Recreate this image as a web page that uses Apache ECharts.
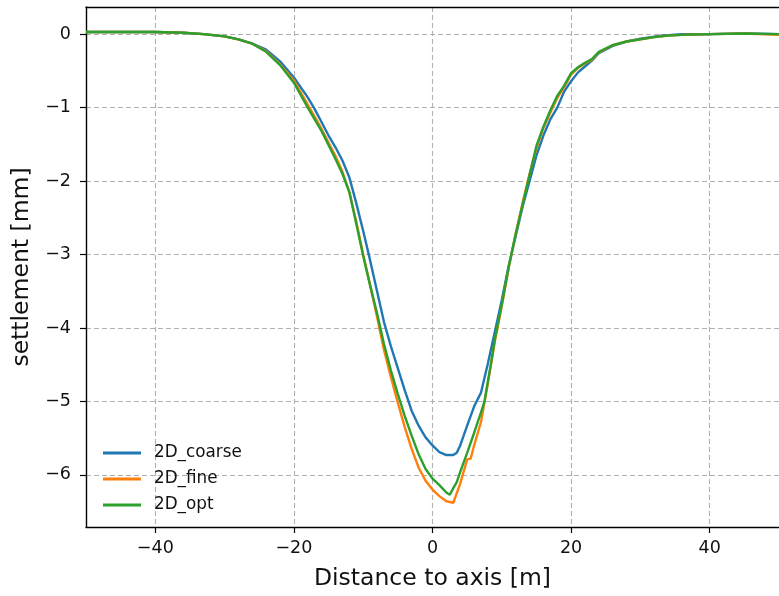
<!DOCTYPE html>
<html>
<head>
<meta charset="utf-8">
<script src="https://cdn.jsdelivr.net/npm/echarts@6/dist/echarts.min.js"></script>
<style>html,body{margin:0;padding:0;background:#fff;}#c{width:779px;height:596px;}</style>
</head>
<body>
<div id="c"></div>
<script>
const seriesNames = ['2D_coarse', '2D_fine', '2D_opt'];
const xTicks = [-40, -20, 0, 20, 40];
const yTicks = [-6, -5, -4, -3, -2, -1, 0];

const coarseX = [-50,-45,-40,-36,-33,-30,-28,-26,-24,-22,-20,-18,-17,-16,-15,-14,-13,-12,-11,-10,-9,-8,-7,-6,-5,-4,-3,-2,-1,0,1,2,3,3.5,4,5,6,7,8,9,10,11,12,13,14,15,16,17,18,19,20,21,22,23,24,26,28,30,33,36,40,45,50];
const coarseY = [0.03,0.03,0.03,0.02,0.0,-0.03,-0.07,-0.13,-0.21,-0.37,-0.59,-0.86,-1.02,-1.20,-1.38,-1.54,-1.72,-1.95,-2.30,-2.68,-3.08,-3.50,-3.92,-4.25,-4.55,-4.85,-5.13,-5.33,-5.49,-5.60,-5.69,-5.73,-5.73,-5.70,-5.60,-5.33,-5.07,-4.88,-4.48,-4.05,-3.62,-3.15,-2.75,-2.35,-2.00,-1.65,-1.38,-1.16,-1.00,-0.78,-0.64,-0.52,-0.44,-0.36,-0.26,-0.16,-0.10,-0.06,-0.02,0.0,0.0,0.01,0.0];

const fineX = [-50,-45,-40,-36,-33,-30,-28,-26,-24,-22,-20,-18,-16,-14,-13,-12,-11,-10,-9,-8,-7,-6,-5,-4,-3,-2,-1,0,1,2,3,4,5,5.5,6,7,8,9,10,11,12,13,14,15,16,17,18,19,20,21,22,23,24,26,28,30,32,34,36,40,45,50];
const fineY = [0.03,0.03,0.03,0.02,0.0,-0.03,-0.07,-0.13,-0.23,-0.41,-0.63,-0.96,-1.29,-1.66,-1.87,-2.15,-2.55,-3.00,-3.42,-3.85,-4.30,-4.67,-5.02,-5.35,-5.65,-5.90,-6.08,-6.20,-6.29,-6.36,-6.38,-6.12,-5.79,-5.78,-5.60,-5.28,-4.75,-4.18,-3.70,-3.18,-2.72,-2.30,-1.90,-1.55,-1.28,-1.07,-0.87,-0.72,-0.55,-0.46,-0.40,-0.35,-0.25,-0.15,-0.10,-0.07,-0.04,-0.02,-0.01,0.0,0.01,-0.01];

const optX = [-50,-45,-40,-36,-33,-30,-28,-26,-24,-22,-20,-18,-16,-14,-13,-12,-11,-10,-9,-8,-7,-6,-5,-4,-3,-2,-1,0,1,2,2.5,3,3.5,4,5,6,7,7.5,8,8.5,9,10,11,12,13,14,15,16,17,18,19,20,21,22,23,24,26,28,30,32,34,36,40,45,50];
const optY = [0.03,0.03,0.03,0.02,0.0,-0.03,-0.07,-0.13,-0.24,-0.42,-0.66,-1.00,-1.32,-1.70,-1.90,-2.15,-2.58,-3.02,-3.42,-3.80,-4.22,-4.58,-4.90,-5.20,-5.47,-5.72,-5.92,-6.05,-6.14,-6.24,-6.27,-6.18,-6.10,-5.96,-5.70,-5.43,-5.15,-5.00,-4.72,-4.45,-4.15,-3.68,-3.17,-2.72,-2.32,-1.92,-1.52,-1.26,-1.04,-0.84,-0.70,-0.53,-0.45,-0.39,-0.34,-0.24,-0.15,-0.10,-0.07,-0.04,-0.02,-0.01,0.0,0.01,0.0];

const colors = ['#1f77b4', '#ff7f0e', '#2ca02c'];
const xs = [coarseX, fineX, optX];
const ys = [coarseY, fineY, optY];
const minus = v => String(v).replace('-', '\u2212');
const FONT = 'DejaVu Sans';
const TXT = '#111';

const chart = echarts.init(document.getElementById('c'), null, {renderer: 'canvas'});
const series = seriesNames.map((n, i) => ({
  name: n, type: 'line', showSymbol: false, symbol: 'none',
  data: xs[i].map((x, k) => [x, ys[i][k]]),
  lineStyle: {color: colors[i], width: 2.4}, itemStyle: {color: colors[i]},
  animation: false, z: 3 + i
}));

const gridLine = {show: true, lineStyle: {color: '#b0b0b0', type: [5, 3], width: 1.1}};

chart.setOption({
  animation: false,
  grid: {left: 86, top: 7, width: 702, height: 523, containLabel: false},
  legend: {
    data: seriesNames.map((n, i) => ({name: n, icon: 'rect', itemStyle: {color: colors[i]}})),
    orient: 'vertical', left: 98, top: 438, itemWidth: 38, itemHeight: 3, itemGap: 6,
    textStyle: {fontFamily: FONT, fontSize: 16.8, color: TXT, padding: [0, 0, 0, 8], lineHeight: 20}
  },
  xAxis: [{
    type: 'value', min: -50, max: 50,
    name: 'Distance to axis [m]', nameLocation: 'middle', nameGap: 40,
    nameTextStyle: {fontFamily: FONT, fontSize: 23.5, color: TXT},
    axisLine: {show: true, onZero: false, lineStyle: {color: '#000', width: 1.4}},
    axisTick: {show: true, length: 6, customValues: xTicks, lineStyle: {color: '#000', width: 1.2}},
    axisLabel: {customValues: xTicks, formatter: minus, fontFamily: FONT, fontSize: 17.5, color: TXT, margin: 12},
    splitLine: gridLine
  }, {
    type: 'value', min: -50, max: 50, position: 'top',
    axisLine: {show: true, onZero: false, lineStyle: {color: '#000', width: 1.4}},
    axisTick: {show: false}, axisLabel: {show: false}, splitLine: {show: false}
  }],
  yAxis: {
    type: 'value', min: -6.71, max: 0.37,
    name: 'settlement [mm]', nameLocation: 'middle', nameGap: 50, nameRotate: 90,
    nameTextStyle: {fontFamily: FONT, fontSize: 23.5, color: TXT},
    axisLine: {show: true, onZero: false, lineStyle: {color: '#000', width: 1.4}},
    axisTick: {show: true, length: 6, customValues: yTicks, lineStyle: {color: '#000', width: 1.2}},
    axisLabel: {customValues: yTicks, formatter: minus, fontFamily: FONT, fontSize: 17.5, color: TXT, margin: 15},
    splitLine: gridLine
  },
  series: series
});
</script>
</body>
</html>
